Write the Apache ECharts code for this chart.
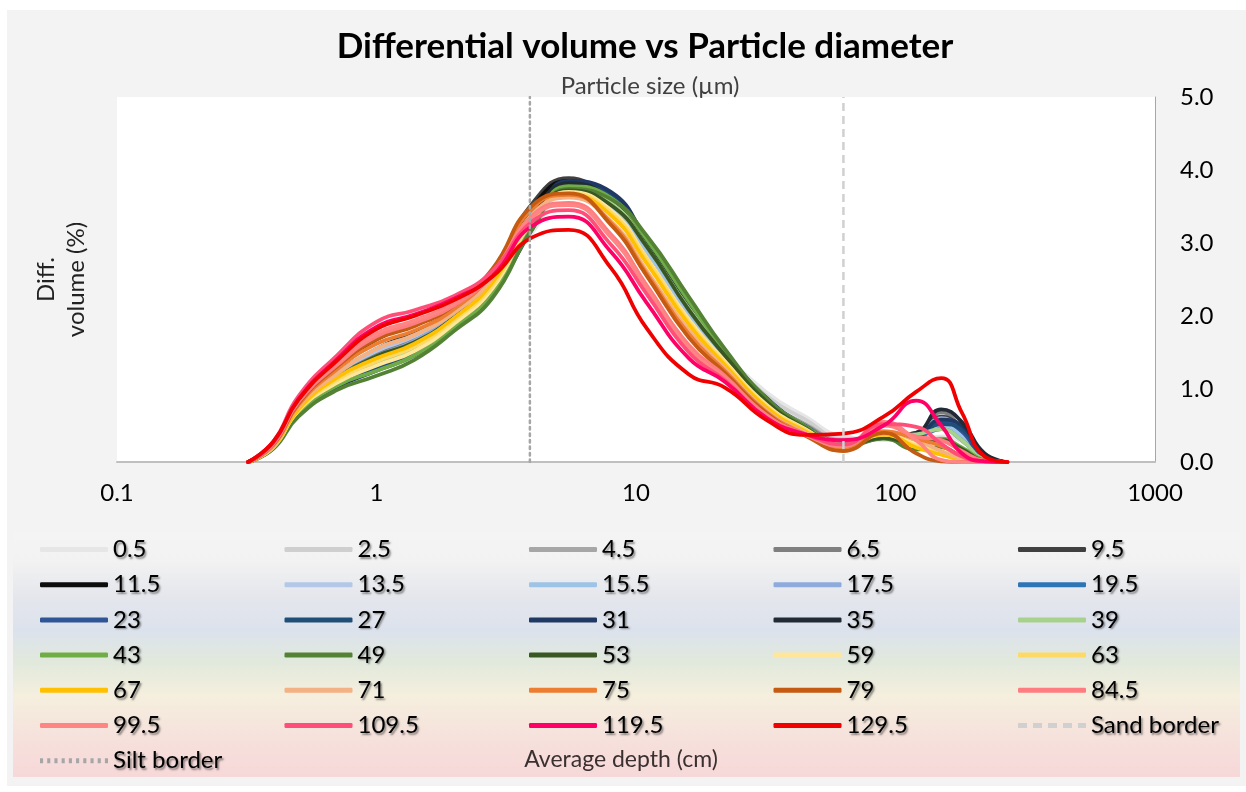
<!DOCTYPE html>
<html>
<head>
<meta charset="utf-8">
<script src="https://cdn.jsdelivr.net/npm/echarts@6/dist/echarts.min.js"></script>
<style>
html,body{margin:0;padding:0;background:#fff;}
#chart{width:1246px;height:792px;}
</style>
</head>
<body>
<div id="chart"></div>
<script>
// Particle sizes (µm) shared by all series
const sizes = [0.32, 0.4, 0.5, 0.7, 1, 1.4, 2, 2.8, 4, 5.5, 8, 11, 16, 22, 32, 45, 63, 90, 120, 150, 180, 220, 270];

// Average depth (cm) labels
const depths = ['0.5','2.5','4.5','6.5','9.5','11.5','13.5','15.5','17.5','19.5','23','27','31','35','39','43','49','53','59','63','67','71','75','79','84.5','99.5','109.5','119.5','129.5'];

const colors = ['#e6e6e6','#cfcfcf','#a6a6a6','#7f7f7f','#404040','#0d0d0d','#b4c7e7','#9dc3e6','#8faadc','#2e75b6','#2f5597','#1f4e79','#203864','#222a35','#a9d18e','#70ad47','#548235','#385723','#ffe699','#ffd966','#ffc000','#f4b183','#ed7d31','#c55a11','#ff7c80','#ff8585','#ff4f78','#ff0066','#f00000'];

// Differential volume (%) per depth
const d0_5   = [0,0.20,0.68,1.08,1.30,1.50,1.88,2.35,3.15,3.68,3.50,2.95,2.10,1.50,0.95,0.62,0.35,0.30,0.30,0.35,0.28,0.05,0];
const d2_5   = [0,0.20,0.70,1.10,1.35,1.55,1.92,2.40,3.20,3.70,3.48,2.90,2.05,1.48,0.90,0.58,0.32,0.32,0.32,0.45,0.35,0.06,0];
const d4_5   = [0,0.21,0.72,1.14,1.45,1.65,2.00,2.48,3.35,3.76,3.50,2.88,2.02,1.45,0.85,0.52,0.30,0.33,0.35,0.55,0.40,0.06,0];
const d6_5   = [0,0.22,0.74,1.17,1.50,1.70,2.05,2.55,3.45,3.80,3.50,2.85,2.00,1.42,0.82,0.50,0.28,0.35,0.40,0.68,0.45,0.06,0];
const d9_5   = [0,0.22,0.76,1.20,1.55,1.78,2.10,2.62,3.55,3.89,3.50,2.82,1.98,1.40,0.78,0.46,0.26,0.35,0.38,0.62,0.45,0.07,0];
const d11_5  = [0,0.23,0.78,1.28,1.68,1.88,2.15,2.60,3.50,3.85,3.45,2.78,1.95,1.38,0.78,0.45,0.25,0.33,0.34,0.50,0.40,0.06,0];
const d13_5  = [0,0.22,0.75,1.20,1.52,1.72,2.05,2.50,3.35,3.75,3.50,2.90,2.05,1.45,0.82,0.48,0.26,0.36,0.36,0.50,0.35,0.05,0];
const d15_5  = [0,0.22,0.75,1.20,1.55,1.74,2.06,2.50,3.35,3.72,3.48,2.88,2.02,1.44,0.80,0.47,0.26,0.36,0.37,0.52,0.36,0.05,0];
const d17_5  = [0,0.21,0.73,1.15,1.45,1.66,2.00,2.45,3.30,3.75,3.55,2.95,2.08,1.46,0.82,0.48,0.26,0.35,0.38,0.60,0.42,0.06,0];
const d19_5  = [0,0.21,0.72,1.12,1.40,1.62,1.96,2.42,3.28,3.80,3.60,2.98,2.12,1.48,0.84,0.48,0.25,0.34,0.35,0.45,0.30,0.04,0];
const d23    = [0,0.20,0.68,1.06,1.30,1.52,1.90,2.35,3.25,3.82,3.65,3.02,2.16,1.50,0.86,0.49,0.24,0.35,0.36,0.55,0.42,0.06,0];
const d27    = [0,0.20,0.67,1.04,1.28,1.50,1.88,2.32,3.22,3.84,3.68,3.04,2.18,1.52,0.86,0.48,0.23,0.33,0.35,0.52,0.45,0.08,0];
const d31    = [0,0.19,0.66,1.02,1.25,1.46,1.85,2.30,3.20,3.85,3.70,3.05,2.20,1.52,0.87,0.49,0.23,0.34,0.36,0.58,0.50,0.10,0];
const d35    = [0,0.21,0.72,1.12,1.40,1.62,1.98,2.45,3.35,3.82,3.60,2.98,2.12,1.48,0.84,0.47,0.24,0.35,0.40,0.72,0.55,0.12,0];
const d39    = [0,0.20,0.70,1.10,1.35,1.56,1.92,2.38,3.25,3.72,3.55,2.95,2.10,1.48,0.84,0.48,0.24,0.36,0.38,0.45,0.30,0.04,0];
const d43    = [0,0.19,0.66,1.04,1.25,1.46,1.85,2.30,3.22,3.78,3.62,3.05,2.20,1.52,0.86,0.49,0.22,0.34,0.30,0.32,0.20,0.03,0];
const d49    = [0,0.18,0.62,0.98,1.18,1.40,1.80,2.25,3.20,3.74,3.60,3.10,2.26,1.55,0.86,0.48,0.20,0.32,0.17,0.20,0.08,0.01,0];
const d53    = [0,0.21,0.72,1.14,1.45,1.64,1.98,2.42,3.30,3.72,3.52,2.95,2.08,1.46,0.82,0.46,0.22,0.33,0.25,0.30,0.18,0.02,0];
const d59    = [0,0.20,0.70,1.08,1.32,1.52,1.90,2.38,3.30,3.70,3.45,2.80,1.95,1.38,0.78,0.45,0.22,0.38,0.25,0.15,0.05,0,0];
const d63    = [0,0.21,0.71,1.12,1.38,1.58,1.95,2.42,3.32,3.68,3.42,2.78,1.92,1.36,0.76,0.44,0.21,0.37,0.22,0.12,0.04,0,0];
const d67    = [0,0.21,0.72,1.15,1.42,1.62,1.98,2.46,3.36,3.66,3.38,2.72,1.88,1.33,0.74,0.42,0.20,0.38,0.20,0.10,0.03,0,0];
const d71    = [0,0.22,0.76,1.20,1.55,1.74,2.05,2.52,3.40,3.62,3.30,2.62,1.80,1.28,0.70,0.40,0.19,0.42,0.30,0.15,0.05,0,0];
const d75    = [0,0.23,0.78,1.26,1.62,1.80,2.10,2.60,3.48,3.66,3.28,2.58,1.75,1.25,0.68,0.38,0.17,0.42,0.32,0.22,0.08,0,0];
const d79    = [0,0.24,0.80,1.30,1.68,1.86,2.15,2.65,3.52,3.68,3.25,2.55,1.70,1.22,0.66,0.36,0.15,0.40,0.12,0.01,0,0,0];
const d84_5  = [0,0.25,0.82,1.32,1.72,1.90,2.15,2.58,3.38,3.55,3.12,2.42,1.60,1.18,0.64,0.38,0.22,0.50,0.35,0.30,0.15,0.02,0];
const d99_5  = [0,0.25,0.83,1.34,1.76,1.94,2.18,2.60,3.36,3.52,3.08,2.38,1.55,1.15,0.62,0.37,0.22,0.55,0.30,0.03,0,0,0];
const d109_5 = [0,0.28,0.90,1.45,1.92,2.08,2.28,2.62,3.30,3.45,2.98,2.30,1.50,1.12,0.60,0.38,0.24,0.52,0.48,0.25,0.08,0.01,0];
const d119_5 = [0,0.27,0.86,1.40,1.85,2.02,2.24,2.55,3.24,3.36,2.88,2.18,1.42,1.10,0.60,0.38,0.30,0.50,0.84,0.50,0.12,0.01,0];
const d129_5 = [0,0.28,0.85,1.38,1.82,2.00,2.22,2.54,3.08,3.18,2.66,1.83,1.20,1.02,0.57,0.37,0.39,0.62,0.96,1.15,0.68,0.08,0];

const seriesValues = [d0_5,d2_5,d4_5,d6_5,d9_5,d11_5,d13_5,d15_5,d17_5,d19_5,d23,d27,d31,d35,d39,d43,d49,d53,d59,d63,d67,d71,d75,d79,d84_5,d99_5,d109_5,d119_5,d129_5];

// Texture borders (µm)
const siltBorder = 3.9;
const sandBorder = 63;
const yTicks = [0, 5];

const FONT = 'Lato, "Open Sans", sans-serif';

const series = depths.map((d, i) => ({
  name: d,
  type: 'line',
  data: sizes.map((s, k) => [s, seriesValues[i][k]]),
  smooth: 0.5,
  symbol: 'none',
  lineStyle: { color: colors[i], width: 3.75, cap: 'round', join: 'round' },
  itemStyle: { color: colors[i] },
  yAxisIndex: 0,
  z: 2
}));

series.push({
  name: 'Sand border', type: 'line', symbol: 'none',
  data: [[sandBorder, yTicks[0]], [sandBorder, yTicks[1]]],
  lineStyle: { color: '#d0d0d0', width: 2.5, type: [8, 5] },
  itemStyle: { color: '#d0d0d0' }, z: 3
});
series.push({
  name: 'Silt border', type: 'line', symbol: 'none',
  data: [[siltBorder, yTicks[0]], [siltBorder, yTicks[1]]],
  lineStyle: { color: '#a6a6a6', width: 2.5, type: [2.5, 4], cap: 'round' },
  itemStyle: { color: '#a6a6a6' }, z: 3
});

const dashIcon = 'path://M0,0h9v4h-9zM15,0h9v4h-9zM30,0h9v4h-9zM45,0h9v4h-9zM60,0h8v4h-8z';
const dotIcon = 'path://M0,0h3v4h-3zM7,0h3v4h-3zM14,0h3v4h-3zM21,0h3v4h-3zM28,0h3v4h-3zM35,0h3v4h-3zM42,0h3v4h-3zM49,0h3v4h-3zM56,0h3v4h-3zM63,0h3v4h-3z';

const legendData = depths.map(d => ({ name: d, icon: 'roundRect' }));
legendData.push({ name: 'Sand border', icon: dashIcon });
legendData.push({ name: 'Silt border', icon: dotIcon });

// one vertical legend component per column (5 columns)
const colLefts = [40, 284.5, 529, 773.5, 1018];
const legends = colLefts.map((x, c) => ({
  data: legendData.filter((_, i) => i % 5 === c),
  left: x, top: 537.5, padding: 0,
  orient: 'vertical',
  itemWidth: 68, itemHeight: 5, itemGap: 11.2,
  symbolKeepAspect: false,
  selectedMode: false,
  textStyle: {
    fontFamily: FONT, fontSize: 24, color: '#000',
    textShadowColor: 'rgba(0,0,0,0.45)', textShadowBlur: 2, textShadowOffsetX: 1.5, textShadowOffsetY: 1.5
  }
}));

const chart = echarts.init(document.getElementById('chart'), null, { renderer: 'canvas' });
chart.setOption({
  backgroundColor: '#ffffff',
  animation: false,
  graphic: [
    { type: 'rect', z: -10, shape: { x: 7, y: 10, width: 1239, height: 776 }, style: { fill: '#f3f3f3' } },
    { type: 'rect', z: -9, shape: { x: 13, y: 532, width: 1227, height: 245 },
      style: { fill: new echarts.graphic.LinearGradient(0, 0, 0, 1, [
        { offset: 0, color: '#f4f4f4' },
        { offset: 0.12, color: '#f2f2f2' },
        { offset: 0.27, color: '#e4e6ec' },
        { offset: 0.4, color: '#dce2ed' },
        { offset: 0.53, color: '#e1e9dc' },
        { offset: 0.67, color: '#f5efde' },
        { offset: 0.83, color: '#f6e2dc' },
        { offset: 1, color: '#f6d8d9' }
      ]) } },
    { type: 'text', z: 10, x: 621, y: 760,
      style: { text: 'Average depth (cm)', font: '23px ' + FONT, fill: '#3a3030', align: 'center', verticalAlign: 'middle' } }
  ],
  title: [
    { text: 'Differential volume vs Particle diameter', left: 640, top: 24, textAlign: 'center',
      textStyle: { fontFamily: FONT, fontSize: 35, fontWeight: 'bold', color: '#000' } },
    { text: 'Particle size (µm)', left: 645, top: 69, textAlign: 'center',
      textStyle: { fontFamily: FONT, fontSize: 24, fontWeight: 'normal', color: '#404040' } }
  ],
  grid: { left: 117, right: 91, top: 97, bottom: 330, show: true, backgroundColor: '#ffffff', borderWidth: 0 },
  legend: legends,
  xAxis: {
    type: 'log', logBase: 10, min: 0.1, max: 1000,
    axisLine: { show: true, lineStyle: { color: '#bfbfbf', width: 2 } },
    axisTick: { show: false },
    splitLine: { show: false },
    axisLabel: { fontFamily: FONT, fontSize: 24, color: '#000', margin: 19,
      formatter: v => String(+v.toPrecision(3)) }
  },
  yAxis: [
    {
      type: 'value', position: 'right', min: yTicks[0], max: yTicks[1], interval: 1,
      axisLine: { show: true, lineStyle: { color: '#a6a6a6', width: 1 } },
      axisTick: { show: false }, splitLine: { show: false },
      axisLabel: { fontFamily: FONT, fontSize: 24, color: '#000', margin: 25, formatter: v => v.toFixed(1) }
    },
    {
      type: 'value', position: 'left', min: yTicks[0], max: yTicks[1], interval: 1,
      name: 'Diff.\nvolume (%)', nameLocation: 'middle', nameRotate: 90, nameGap: 26,
      nameTextStyle: { fontFamily: FONT, fontSize: 24, color: '#222', lineHeight: 30, align: 'center' },
      axisLine: { show: false }, axisTick: { show: false }, splitLine: { show: false },
      axisLabel: { show: false }
    }
  ],
  series: series
});
</script>
</body>
</html>
